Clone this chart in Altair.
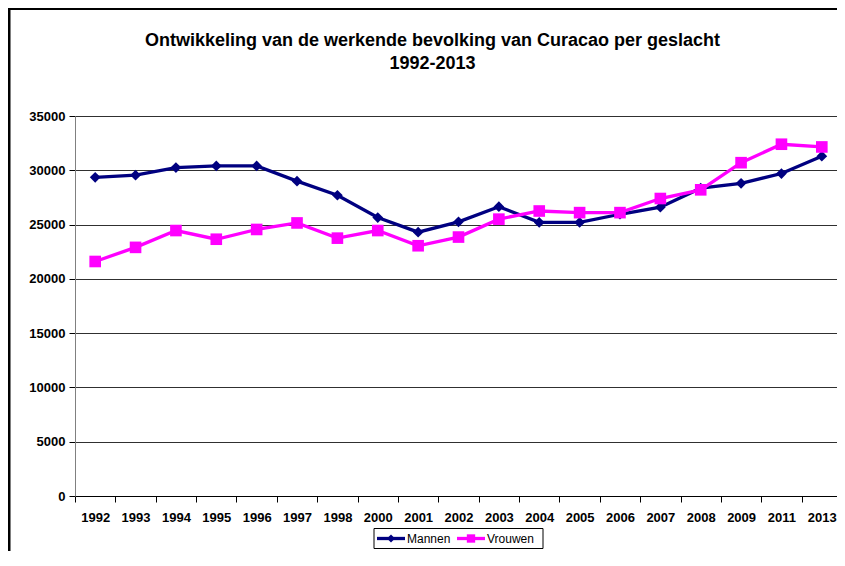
import altair as alt
import pandas as pd

# ---- data ----
years = ["1992", "1993", "1994", "1995", "1996", "1997", "1998", "2000", "2001",
         "2002", "2003", "2004", "2005", "2006", "2007", "2008", "2009", "2011", "2013"]
mannen = [29350, 29550, 30250, 30400, 30400, 29000, 27700, 25650, 24300,
          25250, 26650, 25200, 25200, 25950, 26600, 28350, 28800, 29700, 31300]
vrouwen = [21600, 22900, 24450, 23650, 24550, 25150, 23750, 24450, 23050,
           23850, 25500, 26250, 26100, 26100, 27400, 28200, 30700, 32400, 32150]
series_names = ["Mannen", "Vrouwen"]
series_colors = ["#000080", "#FF00FF"]
series_shapes = ["diamond", "square"]
title_lines = ["Ontwikkeling van de werkende bevolking van Curacao per geslacht", "1992-2013"]
y_ticks = [0, 5000, 10000, 15000, 20000, 25000, 30000, 35000]

rows = []
for i, yr in enumerate(years):
    rows.append({"jaar": yr, "serie": "Mannen", "waarde": mannen[i], "volg": i})
    rows.append({"jaar": yr, "serie": "Vrouwen", "waarde": vrouwen[i], "volg": i})
df = pd.DataFrame(rows)

FONT = "Liberation Sans"

x_enc = alt.X(
    "jaar:N", sort=years, bandPosition=0.5,
    scale=alt.Scale(type="band", paddingInner=0, paddingOuter=0),
    axis=alt.Axis(title=None, tickBand="extent", labelAngle=0, labelFont=FONT,
                  labelFontWeight="bold", labelFontSize=13, labelColor="black",
                  labelPadding=9, tickSize=6, tickColor="black", domainColor="black",
                  grid=False),
)
y_enc = alt.Y(
    "waarde:Q", scale=alt.Scale(domain=[0, 35000], nice=False),
    axis=alt.Axis(title=None, values=y_ticks, format="d", labelFont=FONT,
                  labelFontWeight="bold", labelFontSize=13, labelColor="black",
                  labelPadding=4, tickSize=6, tickColor="black", domainColor="#808080",
                  grid=True, gridColor="#303030", gridWidth=1),
)
color_scale = alt.Scale(domain=series_names, range=series_colors)
color_plain = alt.Color("serie:N", scale=color_scale, legend=None)

base = alt.Chart(df)
layers = []
for name, shp, msize in zip(series_names, series_shapes, [115, 135]):
    sub = base.transform_filter(alt.datum.serie == name)
    layers.append(sub.mark_line(strokeWidth=3.3).encode(
        x=x_enc, y=y_enc, color=color_plain, order="volg:Q"))
    layers.append(sub.mark_point(filled=True, opacity=1, size=msize, shape=shp).encode(
        x=x_enc, y=y_enc, color=color_plain))

one = pd.DataFrame({"a": [0]})

# outer frame of the chart object (left and top edges)
frame_left = alt.Chart(one).mark_rule(color="black", strokeWidth=3).encode(
    x=alt.value(-66), y=alt.value(-110), y2=alt.value(700))
frame_top = alt.Chart(one).mark_rule(color="black", strokeWidth=3).encode(
    x=alt.value(-67), x2=alt.value(900), y=alt.value(-107.5))

# title
t1 = alt.Chart(pd.DataFrame({"t": [title_lines[0]]})).mark_text(
    font=FONT, fontSize=18, fontWeight="bold", color="black", align="center",
    baseline="alphabetic").encode(text="t:N", x=alt.value(357.5), y=alt.value(-70))
t2 = alt.Chart(pd.DataFrame({"t": [title_lines[1]]})).mark_text(
    font=FONT, fontSize=18, fontWeight="bold", color="black", align="center",
    baseline="alphabetic").encode(text="t:N", x=alt.value(357.5), y=alt.value(-47.5))

# legend (boxed, horizontal, line + marker per series)
LEG_Y = 422.5
legend_layers = [
    alt.Chart(one).mark_rect(fill="white", stroke="black", strokeWidth=1).encode(
        x=alt.value(299), x2=alt.value(468), y=alt.value(LEG_Y - 10), y2=alt.value(LEG_Y + 10))
]
for i, (name, col, shp) in enumerate(zip(series_names, series_colors, series_shapes)):
    x0 = 302 + i * 80
    item = alt.Chart(pd.DataFrame({"serie": [name]}))
    legend_layers.append(item.mark_rule(color=col, strokeWidth=3.3).encode(
        x=alt.value(x0), x2=alt.value(x0 + 28), y=alt.value(LEG_Y)))
    legend_layers.append(item.mark_point(filled=True, opacity=1, color=col, shape=shp,
                                         size=65 if shp == "diamond" else 70).encode(
        x=alt.value(x0 + 14), y=alt.value(LEG_Y)))
    legend_layers.append(item.mark_text(font=FONT, fontSize=12, color="black", align="left",
                                        baseline="middle").encode(
        text="serie:N", x=alt.value(x0 + 30), y=alt.value(LEG_Y + 0.5)))

chart = alt.layer(frame_left, frame_top, t1, t2, *layers, *legend_layers).properties(
    width=767, height=380,
    autosize=alt.AutoSizeParams(type="none"),
    padding={"left": 67, "top": 108, "right": -5, "bottom": 55},
).configure(background="white").configure_view(stroke=None)

chart.save("out.html", embed_options={"renderer": "svg", "actions": False})
